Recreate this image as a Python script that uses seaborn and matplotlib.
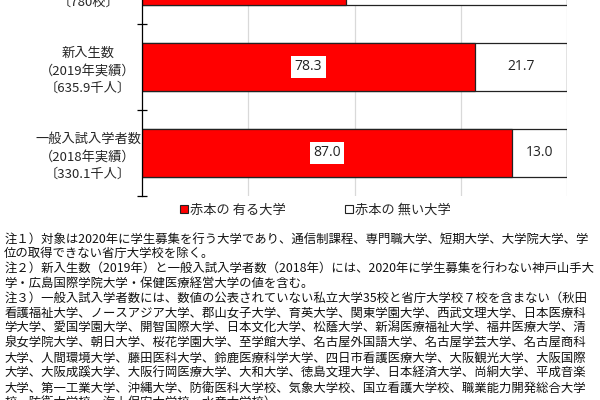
import matplotlib
matplotlib.use("Agg")
import matplotlib.pyplot as plt
import seaborn as sns
import pandas as pd
from matplotlib.patches import Patch

categories = ["大学数\n（2020年度）\n〔780校〕",
              "新入生数\n（2019年実績）\n〔635.9千人〕",
              "一般入試入学者数\n（2018年実績）\n〔330.1千人〕"]
with_akahon = [48.0, 78.3, 87.0]
without_akahon = [52.0, 21.7, 13.0]
legend_labels = ["赤本の 有る大学", "赤本の 無い大学"]
notes = [
    "注１）対象は2020年に学生募集を行う大学であり、通信制課程、専門職大学、短期大学、大学院大学、学",
    "位の取得できない省庁大学校を除く。",
    "注２）新入生数（2019年）と一般入試入学者数（2018年）には、2020年に学生募集を行わない神戸山手大",
    "学・広島国際学院大学・保健医療経営大学の値を含む。",
    "注３）一般入試入学者数には、数値の公表されていない私立大学35校と省庁大学校７校を含まない（秋田",
    "看護福祉大学、ノースアジア大学、郡山女子大学、育英大学、関東学園大学、西武文理大学、日本医療科",
    "学大学、愛国学園大学、開智国際大学、日本文化大学、松蔭大学、新潟医療福祉大学、福井医療大学、清",
    "泉女学院大学、朝日大学、桜花学園大学、至学館大学、名古屋外国語大学、名古屋学芸大学、名古屋商科",
    "大学、人間環境大学、藤田医科大学、鈴鹿医療科学大学、四日市看護医療大学、大阪観光大学、大阪国際",
    "大学、大阪成蹊大学、大阪行岡医療大学、大和大学、徳島文理大学、日本経済大学、尚絅大学、平成音楽",
    "大学、第一工業大学、沖縄大学、防衛医科大学校、気象大学校、国立看護大学校、職業能力開発総合大学",
    "校、防衛大学校、海上保安大学校、水産大学校）",
]

sns.set_theme(style="white")
plt.rcParams['font.family'] = ['Noto Sans CJK JP', 'DejaVu Sans']

df = pd.DataFrame({
    "cat": categories,
    "red": with_akahon,
    "total": [a + b for a, b in zip(with_akahon, without_akahon)],
})

fig = plt.figure(figsize=(6, 4), dpi=100)
ax = fig.add_axes([0.237, 0.51, 0.708, 0.645])

sns.barplot(data=df, y="cat", x="total", orient="h", color="white",
            edgecolor="#222222", linewidth=0.9, width=0.56, ax=ax, zorder=2)
sns.barplot(data=df, y="cat", x="red", orient="h", color="#FF0000",
            saturation=1, edgecolor="#222222", linewidth=0.9, width=0.56,
            ax=ax, zorder=3)

for i, (r, w) in enumerate(zip(with_akahon, without_akahon)):
    ax.text(r / 2, i, f"{r:.1f}", ha="center", va="center", fontsize=10,
            family=["Open Sans", "DejaVu Sans"], color="#222222", zorder=5,
            bbox=dict(boxstyle="square,pad=0.25", fc="white", ec="none"))
    ax.text(r + w / 2, i, f"{w:.1f}", ha="center", va="center", fontsize=10,
            family=["Open Sans", "DejaVu Sans"], color="#222222", zorder=5)

ax.set_xlim(0, 100)
ax.set_ylim(2.5, -0.5)
ax.set_xticks([25, 50, 75, 100])
ax.xaxis.grid(True, color="#d9d9d9", linewidth=0.9, zorder=0)
ax.set_axisbelow(True)
ax.tick_params(axis="x", bottom=False, labelbottom=False)
ax.set_xlabel("")
ax.set_ylabel("")
ax.set_yticks(range(len(categories)))
ax.set_yticklabels(categories, fontsize=9.5, linespacing=1.45, ha="center")
ax.tick_params(axis="y", which="major", length=0, pad=39)
ax.set_yticks([-0.5, 0.5, 1.5, 2.5], minor=True)
ax.tick_params(axis="y", which="minor", left=True, direction="inout",
               length=7, width=0.9, color="black")
for s in ["top", "right", "bottom"]:
    ax.spines[s].set_visible(False)
ax.spines["left"].set_color("black")
ax.spines["left"].set_linewidth(0.9)
ax.spines["left"].set_zorder(6)

handles = [Patch(facecolor="#FF0000", edgecolor="#222222", linewidth=0.8),
           Patch(facecolor="white", edgecolor="#222222", linewidth=0.8)]
fig.legend(handles, legend_labels, loc="center", bbox_to_anchor=(0.525, 0.475),
           ncol=2, frameon=False, fontsize=9.5, handlelength=0.6,
           handleheight=0.6, handletextpad=0.15, columnspacing=4.5)

y0 = 1 - 239 / 400
dy = 14.9 / 400
for k, line in enumerate(notes):
    fig.text(0.007, y0 - k * dy, line, ha="left", va="center", fontsize=8.9,
             color="#111111")

fig.savefig("out.png", dpi=100)
